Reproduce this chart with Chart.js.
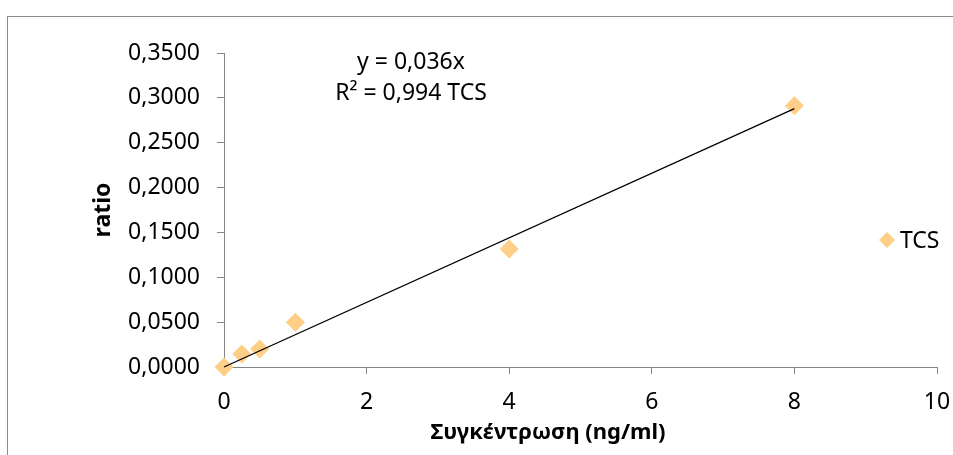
<!DOCTYPE html>
<html>
<head>
<meta charset="utf-8">
<title>TCS</title>
<script src="https://cdn.jsdelivr.net/npm/chart.js@4.4.1/dist/chart.umd.min.js"></script>
<style>
  html, body { margin: 0; padding: 0; background: #fff; overflow: hidden; }
  #wrap { position: relative; width: 953px; height: 455px; }
  .frame { position: absolute; left: 7px; top: 16px; width: 960px; height: 460px; border: 1px solid #8c8c8c; }
  canvas { position: absolute; left: 0; top: 0; }
</style>
</head>
<body>
<div id="wrap">
  <div class="frame"></div>
  <canvas id="chart" width="953" height="455"></canvas>
</div>
<script>
const concentration = [0, 0.25, 0.5, 1, 4, 8];
const ratio = [0, 0.0145, 0.020, 0.050, 0.1315, 0.2913];
const seriesName = "TCS";
const slope = 0.036;
const trendX = [0, 8];
const equationLines = ["y = 0,036x", "R\u00b2 = 0,994 TCS"];
const xTitle = "Συγκέντρωση (ng/ml)";
const yTitle = "ratio";

const FONT = "'Noto Sans', 'Open Sans', sans-serif";
const AXIS_GREY = "#868686";
const MARKER = "#FFCF87";

const points = concentration.map((x, i) => ({ x, y: ratio[i] }));
const trend = trendX.map((x) => ({ x, y: slope * x }));

// x title, trendline equation and the legend entry sit at fixed spots like in Excel
const extras = {
  id: "extras",
  afterDraw(chart) {
    const ctx = chart.ctx;
    ctx.save();
    ctx.fillStyle = "#000";
    ctx.textBaseline = "middle";
    ctx.textAlign = "center";

    ctx.font = "bold 22px " + FONT;
    ctx.fillText(xTitle, 548, 433);

    ctx.font = "23px " + FONT;
    ctx.fillText(equationLines[0], 411, 62);
    ctx.fillText(equationLines[1], 411, 93);

    // legend: diamond + name
    const cx = 887, cy = 240, r = 8;
    ctx.fillStyle = MARKER;
    ctx.beginPath();
    ctx.moveTo(cx, cy - r);
    ctx.lineTo(cx + r, cy);
    ctx.lineTo(cx, cy + r);
    ctx.lineTo(cx - r, cy);
    ctx.closePath();
    ctx.fill();
    ctx.fillStyle = "#000";
    ctx.textAlign = "left";
    ctx.fillText(seriesName, 900, 241);
    ctx.restore();
  },
};

new Chart(document.getElementById("chart"), {
  type: "scatter",
  data: {
    datasets: [
      {
        label: seriesName,
        data: points,
        pointStyle: "rectRot",
        pointRadius: 9.5,
        pointHoverRadius: 9.5,
        backgroundColor: MARKER,
        borderColor: MARKER,
        borderWidth: 0,
        clip: false,
        order: 2,
      },
      {
        label: "trend",
        type: "line",
        data: trend,
        borderColor: "#000",
        borderWidth: 1.3,
        pointRadius: 0,
        fill: false,
        clip: false,
        order: 1,
      },
    ],
  },
  options: {
    responsive: false,
    animation: false,
    events: [],
    layout: { padding: { top: 53, left: 0, right: 16, bottom: 0 } },
    plugins: {
      legend: { display: false },
      tooltip: { enabled: false },
    },
    scales: {
      x: {
        type: "linear",
        min: 0,
        max: 10,
        ticks: {
          stepSize: 2,
          color: "#000",
          padding: 15,
          font: { family: FONT, size: 23 },
        },
        grid: { drawOnChartArea: false, drawTicks: true, tickLength: 7, color: AXIS_GREY },
        border: { display: true, color: AXIS_GREY, width: 1 },
        afterFit(scale) {
          scale.height = 88;
          scale.paddingLeft = 0;
          scale.paddingRight = 0;
        },
      },
      y: {
        min: 0,
        max: 0.35,
        ticks: {
          stepSize: 0.05,
          color: "#000",
          padding: 17,
          font: { family: FONT, size: 23 },
          callback: (v) => v.toFixed(4).replace(".", ","),
        },
        grid: { drawOnChartArea: false, drawTicks: true, tickLength: 7, color: AXIS_GREY },
        border: { display: true, color: AXIS_GREY, width: 1 },
        title: {
          display: true,
          text: yTitle,
          color: "#000",
          padding: { top: 90, bottom: 0 },
          font: { family: FONT, size: 23, weight: "bold" },
        },
        afterFit(scale) {
          scale.width = 224;
          scale.paddingTop = 0;
          scale.paddingBottom = 0;
        },
      },
    },
  },
  plugins: [extras],
});
</script>
</body>
</html>
